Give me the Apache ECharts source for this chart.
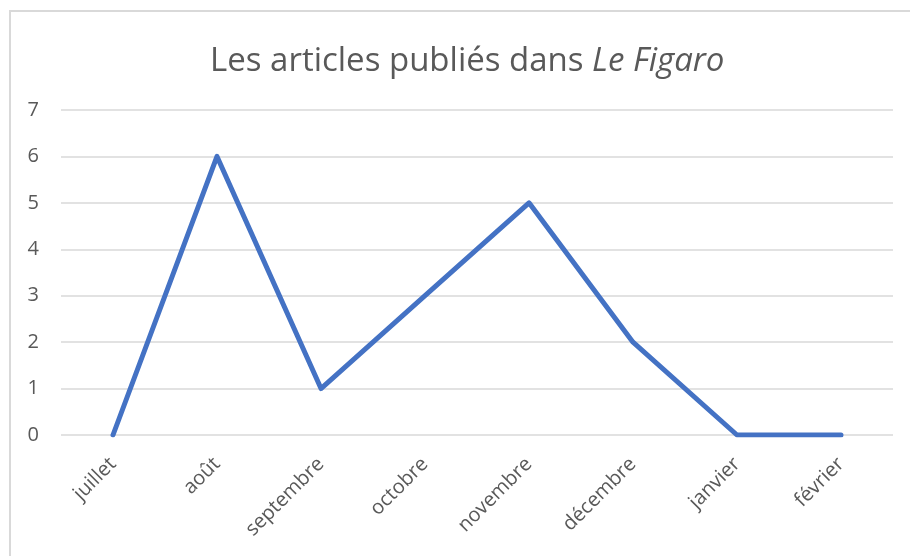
<!DOCTYPE html>
<html lang="fr">
  <head>
    <meta charset="UTF-8" />
    <title>Les articles publiés dans Le Figaro</title>
    <style>
      html, body { margin: 0; padding: 0; background: #fff; }
      #main { width: 910px; height: 556px; }
    </style>
  </head>
  <body>
    <div id="main"></div>
    <script src="https://cdn.jsdelivr.net/npm/echarts@6.0.0/dist/echarts.min.js"></script>
    <script>
      const months = ['juillet', 'août', 'septembre', 'octobre', 'novembre', 'décembre', 'janvier', 'février']
      const articles = [0, 6, 1, 3, 5, 2, 0, 0]
      const yTicks = [0, 1, 2, 3, 4, 5, 6, 7]

      const font = "'Open Sans', 'Noto Sans', sans-serif"
      const chart = echarts.init(document.getElementById('main'), null, { renderer: 'canvas' })

      chart.setOption({
        backgroundColor: '#fff',
        textStyle: { fontFamily: font },
        // cadre du graphique
        graphic: [
          {
            type: 'rect',
            shape: { x: 10, y: 11, width: 920, height: 600 },
            style: { fill: 'none', stroke: '#d9d9d9', lineWidth: 2 },
            silent: true
          }
        ],
        title: {
          text: 'Les articles publiés dans {i|Le Figaro}',
          left: 205,
          top: 40,
          textStyle: {
            fontFamily: font,
            fontSize: 33,
            fontWeight: 'normal',
            color: '#595959',
            rich: {
              i: { fontFamily: font, fontSize: 33, fontStyle: 'italic', color: '#595959' }
            }
          }
        },
        grid: { left: 61, right: 17, top: 110, bottom: 121 },
        xAxis: {
          type: 'category',
          data: months,
          boundaryGap: true,
          axisLine: { show: false },
          axisTick: { show: false },
          axisLabel: {
            rotate: 45,
            interval: 0,
            margin: 26,
            fontSize: 20,
            color: '#595959',
            fontFamily: font
          }
        },
        yAxis: {
          type: 'value',
          min: yTicks[0],
          max: yTicks[yTicks.length - 1],
          interval: 1,
          axisLine: { show: false },
          axisTick: { show: false },
          splitLine: { lineStyle: { color: '#d9d9d9', width: 1.5 } },
          axisLabel: { margin: 22, fontSize: 20, color: '#595959', fontFamily: font }
        },
        series: [
          {
            type: 'line',
            data: articles,
            showSymbol: false,
            lineStyle: { color: '#4472c4', width: 5, cap: 'round', join: 'round' },
            itemStyle: { color: '#4472c4' },
            animation: false
          }
        ]
      })
    </script>
  </body>
</html>
